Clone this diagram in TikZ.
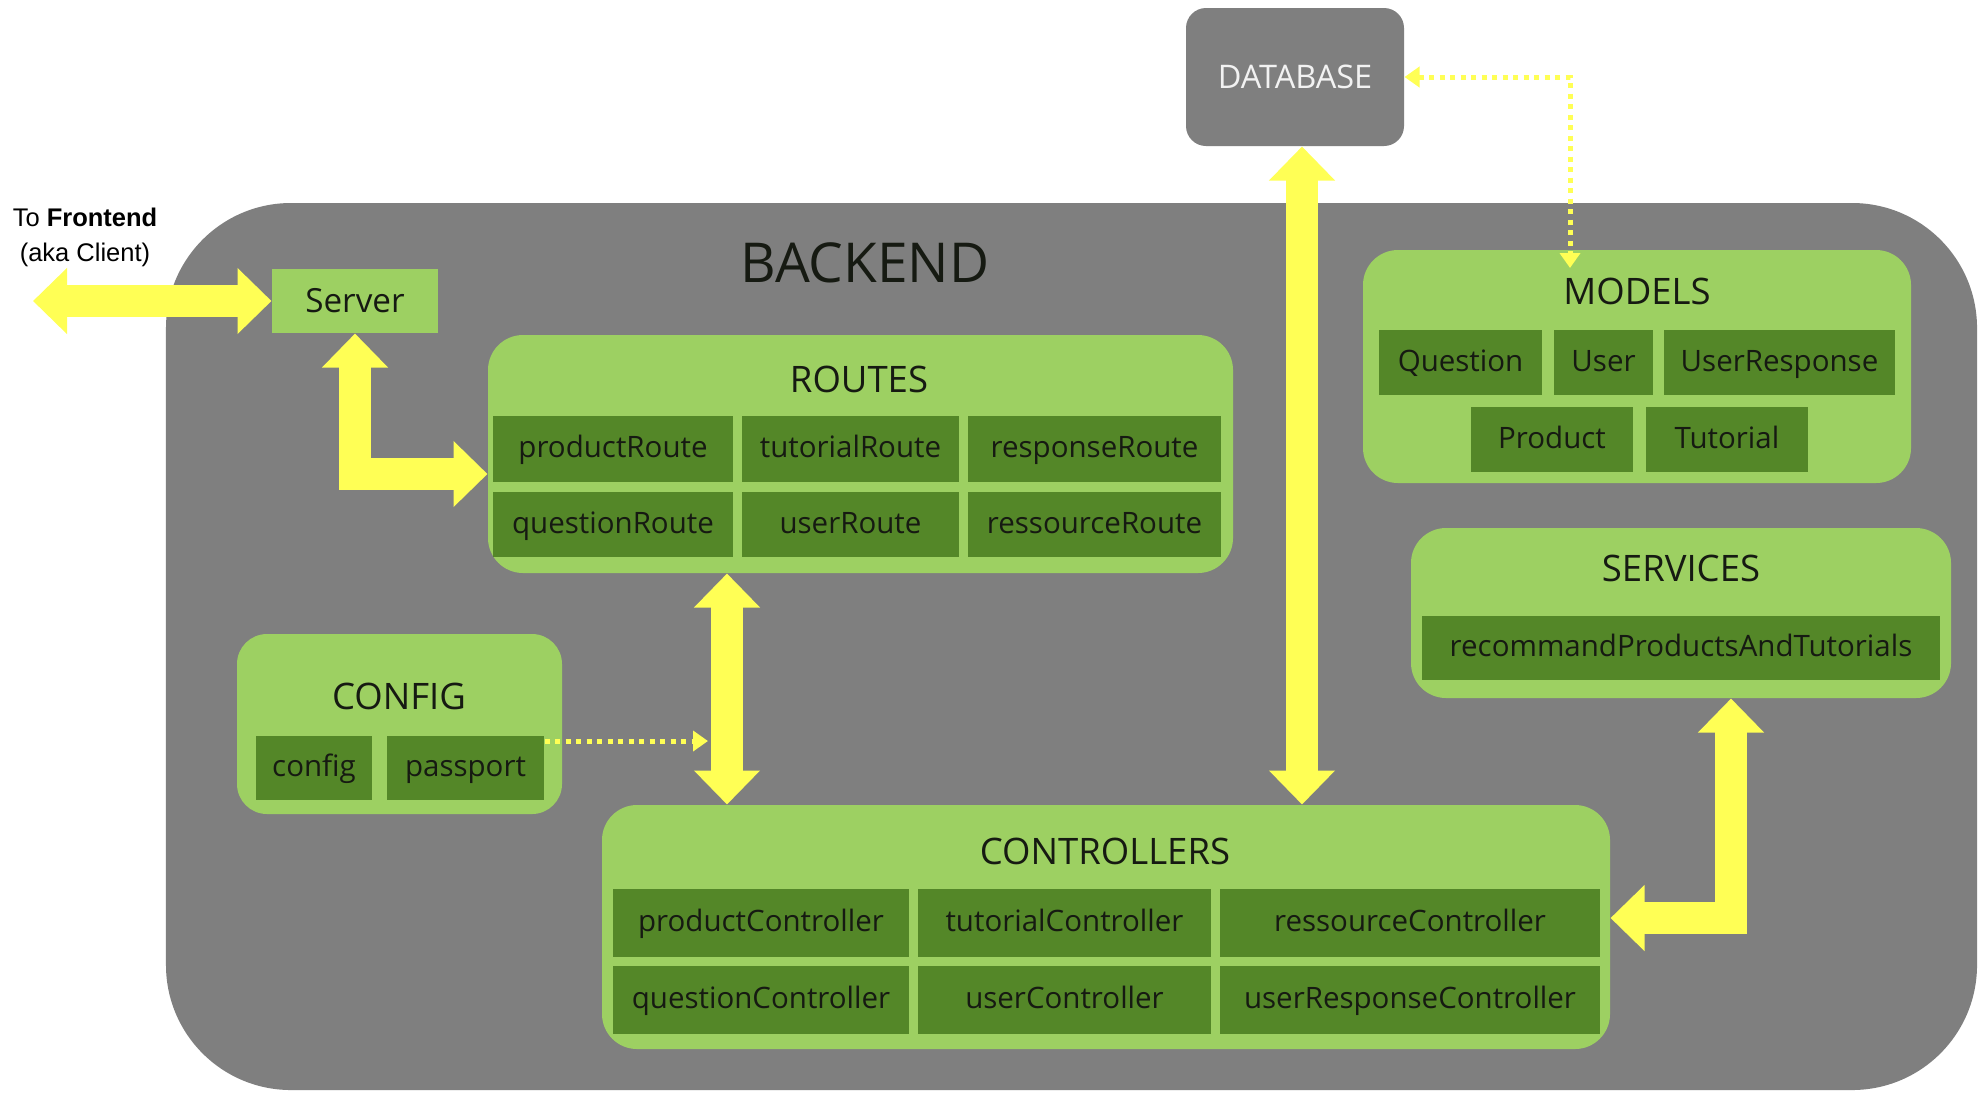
\documentclass[tikz,border=0pt]{standalone}
\usepackage{fontspec}
\setmainfont{Open Sans}
\newfontfamily\arialfont{Liberation Sans}
\usetikzlibrary{arrows.meta, calc}

\definecolor{bggray}{RGB}{127,127,127}
\definecolor{lightgreen}{RGB}{157,208,98}
\definecolor{darkgreen}{RGB}{84,135,40}
\definecolor{arrowyellow}{RGB}{255,255,85}
\definecolor{textdark}{RGB}{22,26,18}
\definecolor{dbtext}{RGB}{242,242,242}

\begin{document}
\begin{tikzpicture}[x=0.4pt, y=-0.4pt,
    layer/.style={rectangle, rounded corners=14pt, fill=lightgreen, inner sep=0pt},
    member/.style={rectangle, fill=darkgreen, inner sep=0pt, text=textdark,
        font=\fontsize{11.8}{14}\selectfont, text height=8.9pt, text depth=1.8pt},
    layertitle/.style={inner sep=0pt, text=textdark,
        font=\fontsize{14.6}{17}\selectfont, text height=11pt, text depth=2.2pt},
    bigarrow/.style={draw=arrowyellow, line width=12.8pt, line join=miter,
        {Triangle[width=25.6pt,length=13.6pt]}-{Triangle[width=25.6pt,length=13.6pt]}},
    dotarrow/.style={draw=arrowyellow, line width=2pt, dash pattern=on 2pt off 2.2pt}
]
    \fill[white] (0,0) rectangle (1984,1102);
    \useasboundingbox (0,0) rectangle (1984,1102);

    % backend frame
    \node[fill=bggray, rounded corners=50pt, inner sep=0pt,
        minimum width=724.4pt, minimum height=354.8pt] (be) at (1071.5,646.5) {};
    \node[text=textdark, font=\fontsize{22}{26}\selectfont] (betitle) at (865,263) {BACKEND};

    % database
    \node[fill=bggray, rounded corners=8pt, inner sep=0pt, text=dbtext,
        font=\fontsize{13}{16}\selectfont, minimum width=87.2pt, minimum height=55.2pt]
        (db) at (1295,77) {DATABASE};

    % server and frontend
    \node[fill=lightgreen, inner sep=0pt, text=textdark, font=\fontsize{13.3}{16}\selectfont,
        minimum width=66.4pt, minimum height=25.6pt] (srv) at (355,301) {Server};
    \node[align=center, font=\arialfont\fontsize{10.2}{14}\selectfont] (fetext) at (85,237)
        {To \textbf{Frontend}\\(aka Client)};

    % routes
    \node[layer, minimum width=298pt, minimum height=95.2pt] (rts) at (860.5,454) {};
    \node[layertitle] (rtstitle) at (859,381) {ROUTES};
    \node[member, minimum width=96pt, minimum height=26.2pt] (prodR) at (613,449) {productRoute};
    \node[member, minimum width=86.8pt, minimum height=26.2pt] (tutR) at (850.5,449) {tutorialRoute};
    \node[member, minimum width=101.2pt, minimum height=26.2pt] (respR) at (1094.5,449) {responseRoute};
    \node[member, minimum width=96pt, minimum height=26.2pt] (questR) at (613,524.5) {questionRoute};
    \node[member, minimum width=86.8pt, minimum height=26.2pt] (userR) at (850.5,524.5) {userRoute};
    \node[member, minimum width=101.2pt, minimum height=26.2pt] (resR) at (1094.5,524.5) {ressourceRoute};

    % models
    \node[layer, minimum width=219.2pt, minimum height=93.2pt] (mdl) at (1637,366.5) {};
    \node[layertitle] (mdltitle) at (1637,293) {MODELS};
    \node[member, minimum width=65.2pt, minimum height=26pt] (question) at (1460.5,362.5) {Question};
    \node[member, minimum width=39.6pt, minimum height=26pt] (user) at (1603.5,362.5) {User};
    \node[member, minimum width=92.4pt, minimum height=26pt] (userresp) at (1779.5,362.5) {UserResponse};
    \node[member, minimum width=64.8pt, minimum height=26pt] (product) at (1552,439.5) {Product};
    \node[member, minimum width=64.8pt, minimum height=26pt] (tutorial) at (1727,439.5) {Tutorial};

    % services
    \node[layer, minimum width=216pt, minimum height=68pt] (svc) at (1681,613) {};
    \node[layertitle] (svctitle) at (1681,570) {SERVICES};
    \node[member, minimum width=207.2pt, minimum height=25.6pt] (recom) at (1681,648) {recommandProductsAndTutorials};

    % config
    \node[layer, rounded corners=12pt, minimum width=130pt, minimum height=72pt] (cfg) at (399.5,724) {};
    \node[layertitle] (cfgtitle) at (399,698) {CONFIG};
    \node[member, minimum width=46.4pt, minimum height=25.6pt] (config) at (314,768) {config};
    \node[member, minimum width=62.8pt, minimum height=25.6pt] (passport) at (465.5,768) {passport};

    % controllers
    \node[layer, minimum width=403.2pt, minimum height=97.6pt] (ctl) at (1106,927) {};
    \node[layertitle] (ctltitle) at (1105,853) {CONTROLLERS};
    \node[member, minimum width=118.4pt, minimum height=27.2pt] (prodC) at (761,923) {productController};
    \node[member, minimum width=117.2pt, minimum height=27.2pt] (tutC) at (1064.5,923) {tutorialController};
    \node[member, minimum width=152pt, minimum height=27.2pt] (resC) at (1410,923) {ressourceController};
    \node[member, minimum width=118.4pt, minimum height=27.2pt] (questC) at (761,1000) {questionController};
    \node[member, minimum width=117.2pt, minimum height=27.2pt] (userC) at (1064.5,1000) {userController};
    \node[member, minimum width=152pt, minimum height=27.2pt] (urespC) at (1410,1000) {userResponseController};

    % helper coordinates for the arrows
    \coordinate (fe) at (33,301);
    \coordinate (sry) at (0,474);
    \coordinate (rcx) at (727,0);
    \coordinate (dbx) at (1302,0);
    \coordinate (svx) at (1731,0);
    \coordinate (svy) at (0,918);
    \coordinate (cfy) at (0,741);
    \coordinate (cfend) at (708,741);
    \coordinate (mdltop) at (1570,268);

    % big arrows
    \draw[bigarrow] (fe) -- (srv.west);
    \draw[bigarrow] (srv.south) |- (rts.west |- sry);
    \draw[bigarrow] (rts.south -| rcx) -- (ctl.north -| rcx);
    \draw[bigarrow] (db.south -| dbx) -- (ctl.north -| dbx);
    \draw[bigarrow] (svc.south -| svx) |- (ctl.east |- svy);

    % dotted arrows
    \draw[dotarrow, {Triangle[width=8pt,length=6pt]}-{Triangle[width=8pt,length=6pt]}] (db.east) -| (mdltop);
    \draw[dotarrow, -{Triangle[width=8pt,length=6pt]}] (passport.east |- cfy) -- (cfend);
\end{tikzpicture}
\end{document}
